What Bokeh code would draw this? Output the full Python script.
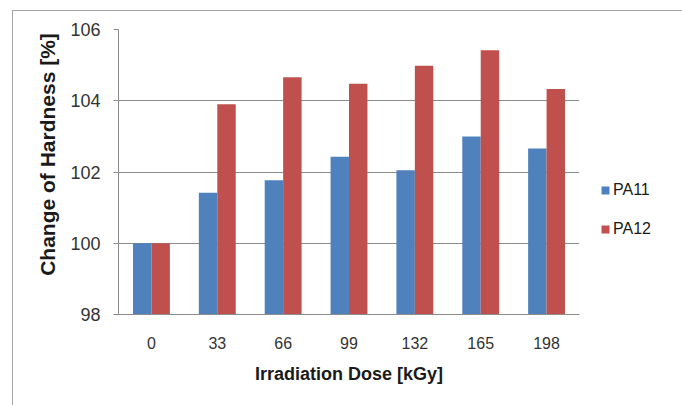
from bokeh.plotting import figure
from bokeh.models import ColumnDataSource, Range1d, FactorRange, Legend, LegendItem, FixedTicker
from bokeh.transform import dodge
from bokeh.embed import file_html
from bokeh.resources import INLINE

doses = ["0", "33", "66", "99", "132", "165", "198"]
pa11 = [100.0, 101.42, 101.77, 102.43, 102.05, 103.0, 102.66]
pa12 = [100.0, 103.9, 104.66, 104.48, 104.98, 105.42, 104.33]
y_ticks = [98, 100, 102, 104, 106]

src = ColumnDataSource(data=dict(dose=doses, pa11=pa11, pa12=pa12))

p = figure(x_range=FactorRange(*doses, range_padding=0), y_range=Range1d(98, 106),
           frame_width=461, frame_height=285, output_backend="svg", toolbar_location=None,
           min_border_left=105, min_border_right=102, min_border_top=18, min_border_bottom=91,
           margin=(10, 0, 0, 12),
           styles={"border-top": "1px solid #a6a6a6", "border-left": "1px solid #a6a6a6",
                   "border-right": "1px solid #cfcfcf"})

b1 = p.vbar(x=dodge("dose", -0.14, range=p.x_range), top="pa11", bottom=98, width=0.28,
            source=src, fill_color="#4F81BD", line_color=None)
b2 = p.vbar(x=dodge("dose", 0.14, range=p.x_range), top="pa12", bottom=98, width=0.28,
            source=src, fill_color="#C0504D", line_color=None)

p.outline_line_color = None
p.xgrid.grid_line_color = None
p.ygrid.grid_line_color = "#8c8c8c"
p.ygrid.grid_line_width = 1
p.yaxis.ticker = FixedTicker(ticks=y_ticks)

p.yaxis.axis_line_color = "#8c8c8c"
p.yaxis.major_tick_line_color = "#8c8c8c"
p.yaxis.major_tick_out = 5
p.yaxis.major_tick_in = 0
p.yaxis.minor_tick_line_color = None
p.yaxis.major_label_standoff = 13
p.yaxis.major_label_text_font = "Liberation Sans"
p.yaxis.major_label_text_font_size = "18px"
p.yaxis.major_label_text_color = "#333333"
p.yaxis.axis_label = "\u00a0" * 6 + "Change of Hardness [%]"
p.yaxis.axis_label_text_font = "Liberation Sans"
p.yaxis.axis_label_text_font_size = "21px"
p.yaxis.axis_label_text_font_style = "bold"
p.yaxis.axis_label_text_color = "#1a1a1a"
p.yaxis.axis_label_standoff = 8

p.xaxis.axis_line_color = "#8c8c8c"
p.xaxis.major_tick_line_color = None
p.xaxis.minor_tick_line_color = None
p.xaxis.major_label_standoff = 16
p.xaxis.major_label_text_font = "Liberation Sans"
p.xaxis.major_label_text_font_size = "16px"
p.xaxis.major_label_text_color = "#333333"
p.xaxis.axis_label = "Irradiation Dose [kGy]"
p.xaxis.axis_label_text_font = "Liberation Sans"
p.xaxis.axis_label_text_font_size = "18px"
p.xaxis.axis_label_text_font_style = "bold"
p.xaxis.axis_label_text_color = "#1a1a1a"
p.xaxis.axis_label_standoff = 12

legend = Legend(items=[LegendItem(label="PA11", renderers=[b1]),
                       LegendItem(label="PA12", renderers=[b2])],
                location="top_left", orientation="vertical",
                title=" ", title_text_font_size="10px", title_standoff=119,
                glyph_width=10, glyph_height=10, label_height=20, label_standoff=3,
                spacing=19, padding=0, margin=21,
                border_line_color=None, background_fill_alpha=0,
                label_text_font="Liberation Sans", label_text_font_size="16px",
                label_text_color="#1a1a1a")
p.add_layout(legend, "right")

open("out.html", "w").write(file_html(p, INLINE))
